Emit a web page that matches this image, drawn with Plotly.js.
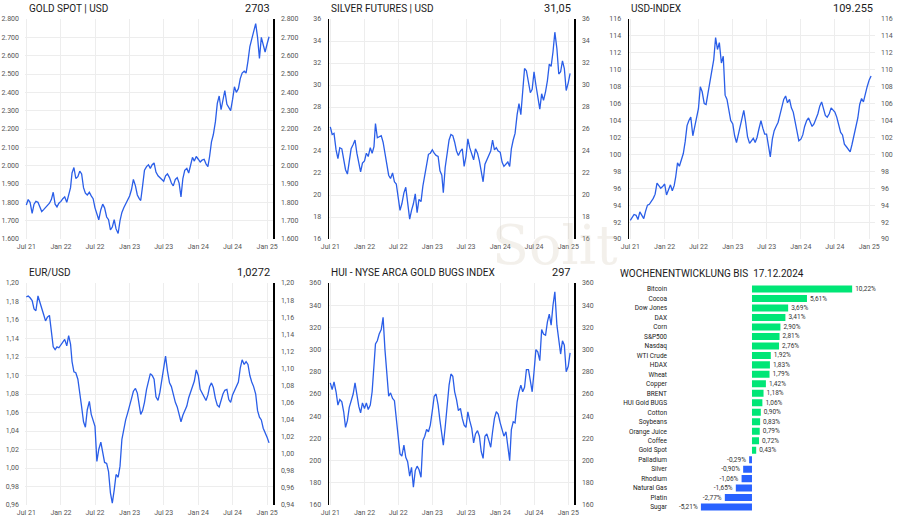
<!DOCTYPE html>
<html><head><meta charset="utf-8">
<script src="https://cdn.plot.ly/plotly-3.0.1.min.js"></script>
<style>html,body{margin:0;padding:0;background:#fff}#chart{width:900px;height:525px}</style>
</head><body><div id="chart"></div>
<script>
// ---------- DATA ----------
// sampling: 1st, 11th, 21st of each month, Jul 2021 .. Dec 2024, then 2025-01-01, 2025-01-11
const sampleDays = [1, 11, 21];
const firstMonth = [2021, 7];
const lastMonth = [2024, 12];
const extraDates = ['2025-01-01', '2025-01-11'];

const gold = [
1785,1815,1800, 1740,1790,1805, 1800,1770,1750, 1760,1770,1785, 1795,1815,1855, 1790,1775,1795,
1805,1820,1830, 1800,1835,1880, 1960,1990,1930, 1940,1970,1955, 1880,1850,1840, 1855,1835,1820,
1770,1730,1705, 1760,1790,1770, 1720,1705,1650, 1665,1705,1655, 1630,1700,1745, 1770,1790,1805,
1835,1870,1925, 1890,1840,1820, 1810,1890,1975, 1995,2005,1985, 2005,2015,1965, 1945,1935,1920,
1915,1945,1955, 1935,1905,1890, 1925,1935,1905, 1830,1930,1975, 1985,1960,2000, 2045,2025,2050,
2035,2020,2030, 2035,2010,1995, 2050,2130,2170, 2240,2340,2380, 2305,2350,2410, 2335,2315,2300,
2360,2430,2400, 2420,2475,2505, 2515,2505,2570, 2650,2690,2735, 2775,2700,2585, 2700,2655,2620,
2665,2703];

const silver = [
26.2,25.5,25.6, 24.1,23.3,24.3, 24.2,23.2,22.3, 21.9,23.2,24.2, 24.6,25.0,23.8, 22.8,22.1,22.9,
23.1,23.8,23.5, 24.3,23.8,24.4, 26.5,25.2,25.3, 25.4,24.8,23.8, 22.8,21.8,21.5, 22.0,21.2,21.0,
19.8,18.6,19.2, 20.2,20.7,19.2, 17.8,18.6,19.2, 20.1,18.4,19.6, 19.4,20.8,21.8, 22.8,23.7,23.8,
24.1,23.8,23.6, 23.5,22.2,21.8, 20.2,22.5,23.8, 25.0,25.5,25.4, 24.8,24.0,23.6, 24.0,24.2,22.6,
23.5,25.1,24.3, 23.7,23.2,24.2, 23.8,23.1,22.0, 21.2,22.8,23.2, 23.6,24.0,25.0, 24.1,24.3,24.0,
23.9,23.0,22.6, 22.8,23.0,22.6, 24.2,25.0,25.6, 27.3,28.3,27.3, 29.3,31.5,31.3, 30.0,29.3,29.6,
31.2,30.0,28.8, 27.8,29.2,28.6, 29.4,30.4,31.9, 31.7,33.0,34.8, 33.3,31.0,31.2, 32.2,31.5,29.5,
30.2,31.05];

const usdIndex = [
92.2,92.5,92.9, 92.8,92.3,93.2, 92.7,92.4,93.3, 94.0,94.1,94.4, 94.8,95.3,96.6, 96.3,96.0,96.2,
96.5,95.2,95.8, 96.4,95.7,96.3, 97.3,99.0,98.6, 99.4,100.1,101.5, 103.4,104.0,104.4, 102.2,103.3,104.6,
105.4,108.0,107.4, 106.0,105.9,107.2, 108.8,109.8,111.2, 113.8,112.4,113.2, 110.8,111.6,107.0, 106.5,105.0,104.0,
103.6,102.2,101.4, 102.5,103.6,104.6, 105.2,103.8,102.1, 101.3,101.6,101.9, 101.4,102.0,103.0, 104.0,103.1,102.4,
102.4,101.2,99.7, 101.8,102.8,103.3, 103.8,104.7,105.7, 106.5,106.9,106.1, 106.5,105.5,105.0, 103.7,102.6,101.6,
101.8,102.3,103.3, 104.0,104.3,103.7, 103.3,103.6,104.1, 104.8,105.7,106.2, 105.4,104.6,104.4, 104.8,105.5,105.3,
105.0,104.4,103.6, 102.6,102.3,101.2, 100.9,100.6,100.3, 101.2,102.2,103.0, 104.3,105.9,106.6, 106.2,107.2,108.0,
108.8,109.255];

const eurUsd = [
1.185,1.186,1.184, 1.181,1.172,1.170, 1.186,1.180,1.172, 1.166,1.159,1.163, 1.165,1.150,1.131, 1.128,1.131,1.130,
1.133,1.137,1.139, 1.132,1.143,1.134, 1.115,1.104,1.103, 1.096,1.083,1.066, 1.050,1.044,1.063, 1.072,1.058,1.050,
1.045,1.007,1.020, 1.028,1.018,1.006, 1.005,0.996,0.973, 0.962,0.976,0.993, 0.990,1.002,1.031, 1.042,1.052,1.059,
1.066,1.075,1.083, 1.086,1.081,1.069, 1.058,1.062,1.071, 1.085,1.094,1.102, 1.100,1.096,1.077, 1.073,1.082,1.097,
1.108,1.121,1.105, 1.092,1.088,1.079, 1.071,1.066,1.059, 1.050,1.057,1.061, 1.067,1.076,1.082, 1.090,1.094,1.106,
1.100,1.085,1.081, 1.077,1.073,1.079, 1.088,1.092,1.087, 1.075,1.068,1.066, 1.073,1.080,1.084, 1.085,1.074,1.071,
1.079,1.084,1.088, 1.093,1.108,1.117, 1.112,1.115,1.112, 1.100,1.093,1.088, 1.080,1.062,1.055, 1.052,1.043,1.039,
1.033,1.0272];

const hui = [
270,264,271, 262,250,255, 253,244,230, 236,248,254, 260,270,258, 249,243,252,
247,252,246, 250,262,288, 305,308,314, 318,329,300, 276,258,261, 256,254,238,
224,206,204, 214,203,199, 186,194,176, 191,195,192, 185,218,222, 228,226,232,
245,258,260, 250,236,226, 214,230,252, 268,278,276, 262,255,245, 247,238,232,
230,244,236, 229,216,224, 227,222,208, 202,222,224, 218,212,226, 238,244,242,
234,228,222, 226,212,200, 228,235,234, 253,262,268, 262,266,282, 282,272,262,
280,300,298, 290,318,314, 313,325,332, 322,340,352, 322,306,296, 308,304,280,
285,297];

const panelTitles = ['GOLD SPOT | USD', 'SILVER FUTURES | USD', 'USD-INDEX', 'EUR/USD', 'HUI - NYSE ARCA GOLD BUGS INDEX'];
const panelValues = ['2703', '31,05', '109.255', '1,0272', '297'];

const weeklyTitle = 'WOCHENENTWICKLUNG BIS  17.12.2024';
const weeklyNames = ['Bitcoin','Cocoa','Dow Jones','DAX','Corn','S&P500','Nasdaq','WTI Crude','HDAX','Wheat','Copper','BRENT',
  'HUI Gold BUGS','Cotton','Soybeans','Orange Juice','Coffee','Gold Spot','Palladium','Silver','Rhodium','Natural Gas','Platin','Sugar'];
const weeklyChange = [10.22,5.61,3.69,3.41,2.90,2.81,2.76,1.92,1.83,1.79,1.42,1.18,
  1.06,0.90,0.83,0.79,0.72,0.43,-0.29,-0.90,-1.06,-1.65,-2.77,-5.21];

// ---------- BUILD ----------
function buildDates(){
  const out = [];
  let y = firstMonth[0], m = firstMonth[1];
  while (y < lastMonth[0] || (y === lastMonth[0] && m <= lastMonth[1])) {
    for (const d of sampleDays) out.push(y + '-' + String(m).padStart(2,'0') + '-' + String(d).padStart(2,'0'));
    m++; if (m > 12) { m = 1; y++; }
  }
  return out.concat(extraDates);
}
const dates = buildDates();

const W = 900, H = 525;
const px = v => v / W, py = v => 1 - v / H;
const LINE = '#2a5ee8';
const FONT = 'Roboto, "Open Sans", sans-serif';
const tickFont = {size: 7, color: '#555', family: FONT};

const panels = [
  {data: gold,     col: [25, 273],  row: [239, 19],  yl: [1600, 2800], yr: [1600, 2800], dt: 100, fmt: ',d', leftLine: false, rightLine: true},
  {data: silver,   col: [329, 574], row: [239, 19],  yl: [16, 36],     yr: [16, 36],     dt: 2,   fmt: 'd',  leftLine: true,  rightLine: true},
  {data: usdIndex, col: [629, 875], row: [239, 19],  yl: [90, 116],    yr: [90, 116],    dt: 2,   fmt: 'd',  leftLine: true,  rightLine: false},
  {data: eurUsd,   col: [25, 273],  row: [505, 283], yl: [0.96, 1.20], yr: [0.94, 1.20], dt: 0.02, fmt: '.2f', leftLine: false, rightLine: true},
  {data: hui,      col: [329, 574], row: [505, 283], yl: [160, 360],   yr: [160, 360],   dt: 20,  fmt: 'd',  leftLine: true,  rightLine: true},
];
const titlePos = [
  {x: 27, xr: 272, y: 8}, {x: 329, xr: 573, y: 8}, {x: 629, xr: 875, y: 8},
  {x: 27, xr: 272, y: 272}, {x: 329, xr: 573, y: 272}
];

const axName = (p, n) => n === 1 ? p + 'axis' : p + 'axis' + n;
const axRef = (p, n) => n === 1 ? p : p + n;

const traces = [];
const layout = {
  width: W, height: H, margin: {l: 0, r: 0, t: 0, b: 0},
  paper_bgcolor: '#fff', plot_bgcolor: 'rgba(0,0,0,0)',
  separators: ',.', showlegend: false,
  font: {family: FONT, color: '#222'},
  annotations: [], shapes: []
};

panels.forEach((p, k) => {
  const xi = k + 1, yli = 2 * k + 1, yri = 2 * k + 2;
  layout[axName('x', xi)] = {
    domain: [px(p.col[0]), px(p.col[1])], anchor: axRef('y', yli), type: 'date',
    range: ['2021-06-24', '2025-02-01'], tick0: '2021-07-01', dtick: 'M6', tickformat: '%b %y',
    showgrid: true, gridcolor: '#ededed', gridwidth: 1, zeroline: false, showline: false,
    ticks: '', tickfont: tickFont, ticklabelstandoff: 2, fixedrange: true
  };
  const common = {
    anchor: axRef('x', xi), dtick: p.dt, tickformat: p.fmt, zeroline: false,
    linecolor: '#000', linewidth: 1.5, ticks: '', tickfont: tickFont, ticklabelstandoff: 5, fixedrange: true
  };
  layout[axName('y', yli)] = Object.assign({}, common, {
    domain: [py(p.row[0]), py(p.row[1])], range: p.yl, tick0: p.yl[0], side: 'left',
    showgrid: true, gridcolor: '#ededed', gridwidth: 1, showline: p.leftLine
  });
  layout[axName('y', yri)] = Object.assign({}, common, {
    overlaying: axRef('y', yli), range: p.yr, tick0: p.yr[0], side: 'right',
    showgrid: false, showline: p.rightLine
  });
  traces.push({
    type: 'scatter', mode: 'lines', x: dates, y: p.data,
    xaxis: axRef('x', xi), yaxis: axRef('y', yli),
    line: {color: LINE, width: 1.3}, hoverinfo: 'skip'
  });
  traces.push({
    type: 'scatter', mode: 'lines', x: dates, y: p.data, opacity: 0,
    xaxis: axRef('x', xi), yaxis: axRef('y', yri),
    line: {color: LINE, width: 0.1}, hoverinfo: 'skip'
  });
  const tp = titlePos[k];
  layout.annotations.push({
    xref: 'paper', yref: 'paper', x: px(tp.x), y: py(tp.y), xanchor: 'left', yanchor: 'middle',
    text: panelTitles[k], showarrow: false, font: {size: 10, color: '#1a1a1a', family: FONT}
  });
  layout.annotations.push({
    xref: 'paper', yref: 'paper', x: px(tp.xr), y: py(tp.y), xanchor: 'right', yanchor: 'middle',
    text: panelValues[k], showarrow: false, font: {size: 11, color: '#1a1a1a', family: FONT}
  });
});

// weekly change bars
const barText = weeklyChange.map(v => v.toFixed(2).replace('.', ',') + '%');
traces.push({
  type: 'bar', orientation: 'h', y: weeklyNames, x: weeklyChange,
  xaxis: 'x6', yaxis: 'y11', width: 0.74,
  marker: {color: weeklyChange.map(v => v >= 0 ? '#00e676' : '#2962ff')},
  text: barText, textposition: 'outside', cliponaxis: false, constraintext: 'none',
  textfont: {size: 6.5, color: '#333', family: FONT}, hoverinfo: 'skip'
});
layout.xaxis6 = {domain: [px(672), px(880)], anchor: 'y11', range: [-8.16, 13.06],
  visible: false, fixedrange: true};
layout.yaxis11 = {domain: [py(511.8), py(284.3)], anchor: 'x6', type: 'category',
  range: [23.5, -0.5], ticks: '', showgrid: false, showline: false, zeroline: false,
  tickfont: {size: 6.5, color: '#222', family: FONT}, ticklabelstandoff: 4, fixedrange: true};
layout.annotations.push({
  xref: 'paper', yref: 'paper', x: px(618), y: py(273), xanchor: 'left', yanchor: 'middle',
  text: weeklyTitle, showarrow: false, font: {size: 10, color: '#1a1a1a', family: FONT}
});

// faint watermark
layout.annotations.push({
  xref: 'paper', yref: 'paper', x: px(555), y: py(245), xanchor: 'center', yanchor: 'middle',
  text: 'Solit', showarrow: false, font: {size: 54, color: 'rgba(200,188,165,0.22)', family: 'DejaVu Serif, serif'}
});

Plotly.newPlot('chart', traces, layout, {staticPlot: true, displayModeBar: false});
</script>
</body></html>
